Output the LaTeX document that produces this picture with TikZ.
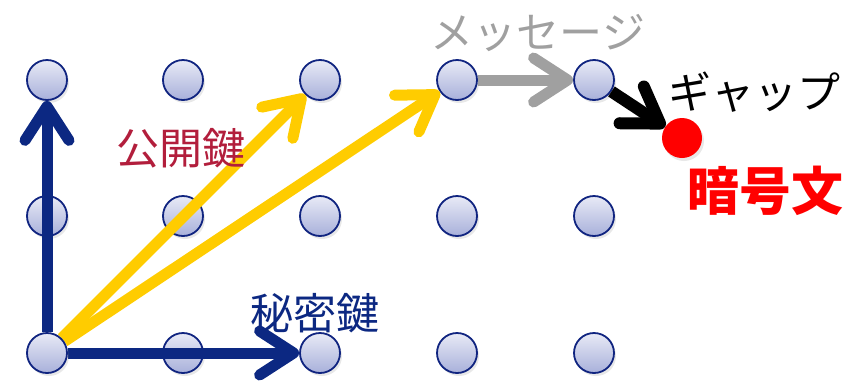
\documentclass[tikz,border=0pt]{standalone}
\usepackage{fontspec}
\newfontfamily\cjk{Noto Sans CJK JP}
\usetikzlibrary{arrows.meta,shadows}
\definecolor{latborder}{RGB}{16,36,128}
\definecolor{lattop}{RGB}{232,234,246}
\definecolor{latbot}{RGB}{168,176,218}
\definecolor{navy}{RGB}{12,40,130}
\definecolor{gold}{RGB}{255,204,0}
\definecolor{msggray}{RGB}{160,160,160}
\definecolor{crimson}{RGB}{178,30,60}
\definecolor{redtxt}{RGB}{255,0,0}
\pgfdeclarelayer{front}
\pgfsetlayers{main,front}
\begin{document}
\begin{tikzpicture}[x=1pt,y=-1pt,
  lat/.style={circle, minimum size=40pt, inner sep=0pt, draw=latborder, line width=1.8pt,
    top color=lattop, bottom color=latbot,
    drop shadow={opacity=0.18, shadow xshift=2pt, shadow yshift=-3pt}},
  arr/.style={line width=11pt, -{Straight Barb[length=34pt,width=44pt,round]}},
  lbl/.style={inner sep=0pt, font=\cjk\fontsize{43}{43}\selectfont}]
\useasboundingbox (0,0) rectangle (846,381);
% lattice
\foreach \c/\x in {1/47,2/183,3/320,4/457,5/594}{
  \foreach \r/\y in {1/80,2/216}{
    \node[lat] (n\r\c) at (\x,\y) {};
  }
}
\foreach \c/\x in {2/183,3/320,4/457,5/594}{
  \node[lat] (n3\c) at (\x,353) {};
}
\begin{pgfonlayer}{front}
  \node[lat] (o) at (47,353) {};
\end{pgfonlayer}
% ciphertext point
\node[circle, fill=red, minimum size=40pt, inner sep=0pt,
  drop shadow={opacity=0.18, shadow xshift=2pt, shadow yshift=-3pt}] (c) at (682,138) {};
% arrows
\draw[arr, navy] (o) -- (n11);
\draw[arr, navy] (o) -- (n33);
\draw[arr, gold] (o) -- (n13);
\draw[arr, gold] (o) -- (n14);
\draw[arr, msggray] (n14) -- (n15);
\draw[arr, black, line width=12pt] (n15) -- (c);
% labels
\node[lbl, text=msggray] (msg) at (538,33) {メッセージ};
\node[lbl, text=black] (gap) at (754,92) {ギャップ};
\node[inner sep=0pt, font=\cjk\bfseries\fontsize{52}{52}\selectfont, text=redtxt] (ct) at (765,191) {暗号文};
\node[lbl, text=crimson] (pub) at (181,148) {公開鍵};
\node[lbl, text=navy] (sec) at (315,313) {秘密鍵};
\end{tikzpicture}
\end{document}
